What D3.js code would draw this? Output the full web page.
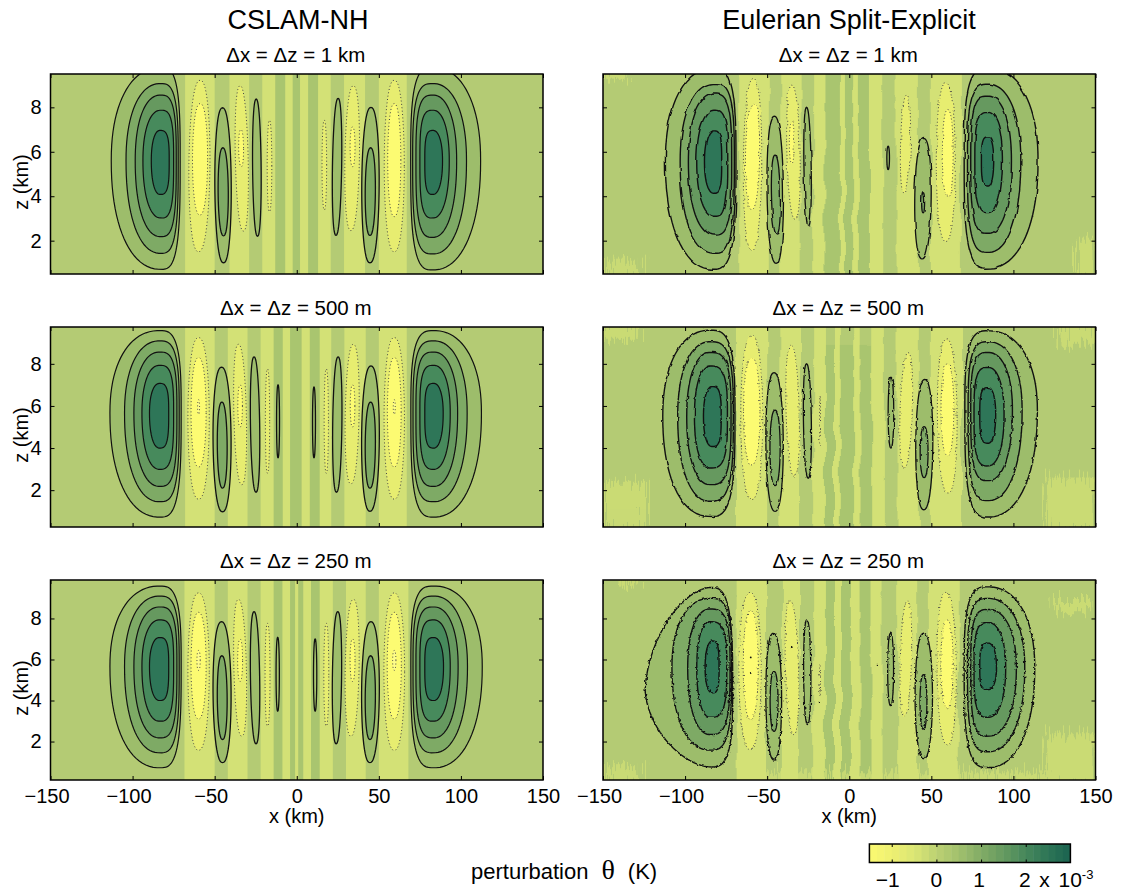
<!DOCTYPE html>
<html>
<head>
<meta charset="utf-8">
<script src="https://cdnjs.cloudflare.com/ajax/libs/d3/7.8.5/d3.min.js"></script>
<style>
    html, body { margin: 0; padding: 0; background: #fff; }
    text { font-family: "Liberation Sans", Arial, sans-serif; fill: #000; }
</style>
</head>
<body>
<script>
// tick labels
const xTicks = [-150, -100, -50, 0, 50, 100, 150];
const zTicks = [2, 4, 6, 8];
const barTicks = [-1, 0, 1, 2];

// colours
const fills = {
    d0: "#a9c56f", b0: "#b4cb74", n1: "#d3e176", n2: "#e7ed70", n3: "#fcfb72", n4: "#fdfc8a",
    p1: "#9dbd6b", p2: "#7eaa65", p3: "#66995f", p4: "#478a5c", p5: "#2e7658"
};
const barValues = [-1.5, -1, -0.5, 0, 0.5, 1, 1.5, 2, 2.5, 3];
const barColors = ["#fbf971", "#eef072", "#dbe674", "#bcd173", "#a1c06d", "#82ac66", "#659a60", "#46875b", "#2d7556", "#1b6350"];

// vertical strips [x0, x1, fill, zTop]
const bandsA1 = [[-68,-50,"n1"],[-41,-29,"n1"],[-21,-13,"n1"],[-13,-7,"d0"],[-7,-2.4,"n1"],[-2.4,2,"d0"],[2,7,"n1"],[7,13,"d0"],[13,20.7,"n1"],[28.8,41.6,"n1"],[50,67,"n1"]];
const bandsA2 = [[-68,-50,"n1"],[-42,-30,"n1"],[-22,-14,"n1"],[-14,-8.5,"d0"],[-8.5,-4,"n1"],[-4,3,"d0"],[3,8,"n1"],[8,14,"d0"],[14,21,"n1"],[29,42,"n1"],[50,67,"n1"]];
const bandsA3 = [[-68.4,-50,"n1"],[-42,-30,"n1"],[-22,-14,"n1"],[-14,-8.7,"d0"],[-8.7,-4,"n1"],[-4,-1,"d0"],[-1,1,"n1"],[1,4,"d0"],[4,8.7,"n1"],[8.7,14,"d0"],[14,22,"n1"],[30,42,"n1"],[50,68,"n1"]];
const bandsB1 = [[-67,-49,"n1"],[-42,-29.6,"n1"],[-22,-15,"n1"],[-15,-5.7,"d0"],[-5.7,-2.6,"n1"],[-2.6,2.4,"d0"],[2.4,5.9,"n1"],[5.9,12.6,"d0"],[12.6,20.7,"n1"],[28.8,42.4,"n1"],[49.7,68,"n1"]];
const bandsB2 = [[-69,-50,"n1"],[-42.6,-30,"n1"],[-22,-14.8,"n1"],[-14.8,-9.3,"d0",8.9],[-9.3,-5.7,"n1"],[-5.7,3,"d0",8.9],[3,7,"n1"],[7,14,"d0",8.9],[14,21.7,"n1"],[29.4,43,"n1"],[49.7,68.7,"n1"]];
const bandsB3 = [[-68.6,-50.7,"n1"],[-41,-30.6,"n1"],[-22,-14.8,"n1"],[-14.8,-9.3,"d0"],[-9.3,-5,"n1"],[-5,1,"d0"],[1,7,"n1"],[7,13.6,"d0"],[13.6,20.3,"n1"],[29.8,42,"n1"],[48.5,66.7,"n1"]];

// big lobes, one row per contour, inner to the plot last [xOuter, xApex, xInner, zTop, zBottom, zMid, outerExponent]
const bigA1 = [
    [-113,-82.8,-71,9.8,0.71,5.6],[-104,-83,-72.2,9.07,1.43,5.6],[-98.4,-83,-73.4,8.55,2.18,5.6],[-93.7,-82.8,-75,7.87,3.02,5.6],[-88.6,-83.3,-77.7,6.96,4.08,5.6],
    [112,83,69.4,9.8,0.68,5.6],[103.4,83,70.6,9.07,1.4,5.6],[97.4,83,72.6,8.55,2.15,5.6],[92.9,83,75,7.87,3.02,5.6],[88.8,83,78,6.96,4.08,5.6]
];
const bigA2 = [
    [-113.8,-83.6,-70.4,9.58,0.72,5.66],[-104.9,-83.6,-71.6,9.09,1.45,5.66],[-99.2,-83.6,-73,8.56,2.18,5.66],[-94.3,-83.6,-75,7.93,2.99,5.66],[-89.7,-83.6,-78,7.07,4,5.66],
    [112.5,83.5,69.5,9.58,0.72,5.66],[103.8,83.5,70.8,9.09,1.45,5.66],[98,83.5,72.6,8.56,2.18,5.66],[93.5,83.5,75,7.93,2.99,5.66],[89.2,83.5,78,7.07,4,5.66]
];
const bigA3 = [
    [-113.8,-83.6,-70.4,9.58,0.72,5.66],[-104.9,-83.6,-71.6,9.09,1.45,5.66],[-99.2,-83.6,-73,8.56,2.18,5.66],[-94.3,-83.6,-75,7.93,2.99,5.66],[-89.7,-83.6,-78,7.07,4,5.66],
    [113,83.5,69.5,9.58,0.72,5.66],[104,83.5,70.8,9.09,1.45,5.66],[98.3,83.5,72.6,8.56,2.18,5.66],[93.5,83.5,75,7.93,2.99,5.66],[89.4,83.5,78,7.07,4,5.66]
];
const bigB1 = [
    [-112,-82.8,-69,9.75,0.71,5.55],[-103,-82,-70,9.07,1.43,5.55],[-98,-82,-71.6,8.6,2.25,5.55],[-92.9,-82,-74,7.87,3.1,5.55],[-88.2,-82.4,-77.7,6.94,4.13,5.55],
    [115,84.6,70,9.75,0.76,5.6],[104.5,84.6,72,9.04,1.47,5.6],[98.8,84.6,74,8.5,2.33,5.6],[93.3,84.6,76.5,7.77,3.26,5.6],[88,84.6,80.5,6.67,4.46,5.6]
];
const bigB2 = [
    [-113.6,-84.8,-69.6,9.6,0.75,5.5],[-104.5,-84.8,-70.6,9.05,1.47,5.5],[-99,-84.8,-72,8.54,2.26,5.5],[-94.3,-84.8,-74.2,7.9,3.05,5.5],[-88.8,-83.5,-78,6.92,4.07,5.5],
    [114.6,84.6,70.4,9.57,0.72,5.8],[105.3,84.6,72.4,9.05,1.5,5.8],[99.4,84.6,74,8.54,2.45,5.8],[94.3,84.6,76,7.83,3.15,5.6],[89.2,84.6,79.5,6.87,4.23,5.6]
];
const bigB3 = [
    [-124.3,-84.8,-71,9.51,0.76,4.5,1.7],[-108,-84.8,-71.6,8.98,1.58,5.6],[-98.4,-84.8,-72.6,8.46,2.34,5.6],[-92.9,-84.8,-74.6,7.84,3.18,5.6],[-87.8,-83.4,-79.3,6.9,4.37,5.6],
    [113,84.6,70,9.54,0.73,5.6],[106.9,84.6,72,8.98,1.5,5.6],[101.8,84.6,74,8.44,2.26,5.6],[95.3,84.6,76,7.8,3.18,5.6],[89.7,84.6,79.5,6.8,4.53,5.6]
];

// narrow lobes [xTop, zTop, xBottom, zBottom, halfWidth, fill]; n fills get dotted outlines
const smallA1 = [
    [-58.8,9.22,-59.8,1.5,6.4,"n2"],[-58.8,8.17,-59,3.15,4.6,"n3"],[-45.2,7.98,-44.6,1,5,"p1"],[-45,6.18,-44.6,2.22,3.1,"p2"],
    [-34.5,8.97,-32.5,2.43,3.9,"n2"],[-34,7,-33.8,5.33,1.5,"n3"],[-24.7,8.37,-23.9,2.2,2.6,"p1"],[-16.6,7.42,-16.6,3.3,1.4,"n2"],
    [16.8,7.42,16.8,3.38,1.4,"n2"],[25.2,8.4,23.9,2.24,2.8,"p1"],[34.5,8.97,33,2.45,4.4,"n2"],[34,7.12,34,5.33,1.5,"n3"],
    [45.2,8,44.6,1,5.3,"p1"],[45,6.18,44.6,2.24,3.1,"p2"],[59.4,9.22,59.4,1.5,6.1,"n2"],[59.4,8.17,59.4,3.08,4,"n3"]
];
const smallA2 = [
    [-59.8,9.25,-59.8,1.57,6.5,"n2"],[-59.8,8.3,-59.8,3.1,4.6,"n3"],[-59.8,6.3,-59.8,5.6,0.6,"n4"],[-45.8,7.84,-45.2,0.97,5.5,"p1"],[-45.6,6.18,-45.2,2.1,3,"p2"],
    [-35.5,8.93,-33.5,2.26,3.8,"n2"],[-34.5,7,-34.5,5,1.4,"n3"],[-26,8.33,-24.8,1.9,2.8,"p1"],[-17.8,7.76,-17.8,2.8,1.3,"n2"],[-11.4,7,-11.4,3.54,0.9,"p1"],
    [10.5,6.9,10.5,3.54,0.9,"p1"],[18,7.76,18,2.8,1.3,"n2"],[25.2,8.33,24.2,1.9,2.8,"p1"],[34.5,8.93,33,2.3,4.2,"n2"],[34,7,34,5,1.4,"n3"],
    [45.2,7.9,44.6,1,5.4,"p1"],[45,6.18,44.6,2.1,3.1,"p2"],[59.4,9.25,59.4,1.57,6.2,"n2"],[59.4,8.3,59.4,3.1,4.2,"n3"],[59.4,6.3,59.4,5.6,0.6,"n4"]
];
const smallA3 = [
    [-59.8,9.25,-59.8,1.57,6.5,"n2"],[-59.8,8.3,-59.8,3.1,4.6,"n3"],[-59.8,6.44,-59.8,5.47,1,"n4"],[-45.8,7.84,-45.2,0.97,5.5,"p1"],[-45.6,6.18,-45.2,2.1,3,"p2"],
    [-35.5,8.93,-33.5,2.26,3.8,"n2"],[-34.5,6.99,-34.5,4.93,1.5,"n3"],[-26,8.33,-24.8,1.89,2.8,"p1"],[-17.8,7.76,-17.8,2.75,1.5,"n2"],[-11.6,7.08,-11.6,3.48,1,"d0"],
    [11.2,7,11.2,3.48,1,"d0"],[18,7.76,18,2.75,1.5,"n2"],[25,8.33,24,1.89,2.8,"p1"],[34.5,8.93,33,2.26,4.2,"n2"],[34,7,34,4.93,1.5,"n3"],
    [45.2,7.84,44.6,0.97,5.4,"p1"],[45,6.18,44.6,2.1,3.1,"p2"],[59.4,9.25,59.4,1.57,6.3,"n2"],[59.4,8.3,59.4,3.1,4.3,"n3"],[59.4,6.44,59.4,5.47,1,"n4"]
];
const smallB1 = [
    [-58.4,9.3,-59.4,1.58,5.6,"n2"],[-58.4,8.2,-59.4,3.4,4.3,"n3"],[-45.6,7.6,-44.6,0.98,5,"p1"],[-45.2,5.85,-44.2,2.3,2.7,"p2"],
    [-35,9,-33,2.96,4,"n2"],[-35,7.35,-35,5.48,1.5,"n3"],[-26,8,-24.8,2.67,2.2,"p1"],
    [23.7,6.25,23.7,5.2,0.8,"p1"],[35,8.55,33.5,4.1,3,"n2"],[45.4,6.6,44.4,1.18,5,"p1"],[45,4.16,45,3.3,0.9,"p2"],[58.8,9.1,58.8,1.96,5.8,"n2"],[60,7.9,60,3.95,3.3,"n3"]
];
const smallB2 = [
    [-59.4,9.36,-59.4,1.55,6.7,"n2"],[-59.4,8.3,-59.4,3.2,5,"n3"],[-45.8,7.58,-45.2,0.99,5.3,"p1"],[-45.2,5.8,-45.2,2.22,3.1,"p2"],
    [-35.5,8.9,-33.5,2.65,4,"n2"],[-26,8,-25,2.57,2.4,"p1"],[-17.8,6.47,-17.8,4.1,0.3,"n2"],
    [25.4,7.36,25.4,4,1.7,"p1"],[35.9,8.53,33.5,3.05,3.7,"n2"],[46,7.26,45.4,1.07,5.2,"p1"],[45.6,5.02,45.6,2.6,2.4,"p2"],[59.2,9.2,60.2,1.86,6,"n2"],[59.8,8,59.8,3.65,3.9,"n3"]
];
const smallB3 = [
    [-60.4,9.27,-60.4,1.61,6.8,"n2"],[-60,8.38,-60,3.07,4.6,"n3"],[-46.2,7.28,-45.8,1.1,4.8,"p1"],[-45.8,5.42,-45.8,2.5,2.4,"p2"],
    [-36,8.86,-33.8,2.34,4,"n2"],[-25.8,7.93,-25.4,2.83,2.2,"p1"],[-17.8,5.8,-17.8,4.2,0.3,"n2"],
    [25.2,7.28,25.2,3.75,1.8,"p1"],[35.5,8.86,33.5,3.23,3.4,"n2"],[45.4,7.28,45.4,1.16,5.3,"p1"],[45.2,5.26,45.2,2.59,2.1,"p2"],[58.8,9.27,59.8,1.83,5.9,"n2"],[59.6,7.93,59.6,3.64,3.75,"n3"]
];

// light streaky patches near the domain corners [x0, x1, z0, z1]
const patchesB1 = [[-150,-128,0.4,1.1],[-150,-135,9.2,9.6],[138,150,0.4,2]];
const patchesB2 = [[-150,-125,0.2,2.4],[-150,-128,9,9.8],[128,150,9,9.8],[120,150,0.2,2.6]];
const patchesB3 = [[-150,-128,0,0.8],[-140,-130,9.5,9.9],[125,147,8.4,9],[120,150,0.2,2.4],[-60,150,0,0.5]];

// stray contour specks in the finest run [x, z]
const specksB3 = [[-60,6.1],[-60,5.35],[-35,6.6],[-18,3.9],[17,5.75]];

const panels = [
    { title: "\u0394x = \u0394z = 1 km", col: 0, row: 0, zDomain: [0.5, 9.5], bands: bandsA1, big: bigA1, small: smallA1 },
    { title: "\u0394x = \u0394z = 500 m", col: 0, row: 1, zDomain: [0.25, 9.75], bands: bandsA2, big: bigA2, small: smallA2 },
    { title: "\u0394x = \u0394z = 250 m", col: 0, row: 2, zDomain: [0.125, 9.875], bands: bandsA3, big: bigA3, small: smallA3 },
    { title: "\u0394x = \u0394z = 1 km", col: 1, row: 0, zDomain: [0.5, 9.5], bands: bandsB1, big: bigB1, small: smallB1, patches: patchesB1, rough: "rough1" },
    { title: "\u0394x = \u0394z = 500 m", col: 1, row: 1, zDomain: [0.25, 9.75], bands: bandsB2, big: bigB2, small: smallB2, patches: patchesB2, rough: "rough2" },
    { title: "\u0394x = \u0394z = 250 m", col: 1, row: 2, zDomain: [0.125, 9.875], bands: bandsB3, big: bigB3, small: smallB3, patches: patchesB3, rough: "rough3", specks: specksB3 }
];

const width = 1121, height = 894;
const colLeft = [50.5, 603], colWidth = 492.5;
const rowTop = [74, 327, 580], rowHeight = 200;
const bigFills = ["p1", "p2", "p3", "p4", "p5"];

const svg = d3.select("body").append("svg").attr("width", width).attr("height", height).style("display", "block");
const defs = svg.append("defs");

// edge roughness filters for the Eulerian runs
function addFilter(id, freq, scale, seed) {
    const f = defs.append("filter").attr("id", id)
        .attr("x", "-5%").attr("y", "-5%").attr("width", "110%").attr("height", "110%")
        .attr("color-interpolation-filters", "sRGB");
    f.append("feTurbulence").attr("type", "fractalNoise").attr("baseFrequency", freq).attr("numOctaves", 2).attr("seed", seed).attr("result", "n");
    f.append("feDisplacementMap").attr("in", "SourceGraphic").attr("in2", "n").attr("scale", scale).attr("xChannelSelector", "R").attr("yChannelSelector", "G");
}
addFilter("rough1", "0.07", 3.5, 3);
addFilter("rough2", "0.18", 2.8, 5);
addFilter("rough3", "0.3", 3.2, 8);
addFilter("wavy", "0.012 0.03", 7, 4);
addFilter("streak", "0.5 0.02", 34, 7);

// quadrant-wise superellipse through the four extreme points of a contour
function bigShape(c, x, z) {
    const [xOut, xA, xIn, zT, zB, zM, nOut] = c;
    const pts = d3.range(0, 360, 4).map(a => {
        const t = a * Math.PI / 180, ca = Math.cos(t), sa = Math.sin(t);
        const rx = ca < 0 ? xOut - xA : xIn - xA, nx = ca < 0 ? (nOut || 2.2) : 3.2;
        const rz = sa > 0 ? zT - zM : zB - zM;
        const px = xA + rx * Math.pow(Math.abs(ca), 2 / nx);
        const pz = zM + rz * Math.pow(Math.abs(sa), 2 / nx);
        return [px, pz];
    });
    return d3.line().x(d => x(d[0])).y(d => z(d[1])).curve(d3.curveLinearClosed)(pts);
}

// slim slanted lobe between a top and a bottom point
function smallShape(c, x, z) {
    const [xT, zT, xB, zB, w] = c;
    const pts = d3.range(0, 360, 6).map(a => {
        const t = a * Math.PI / 180, s = Math.sin(t), k = (s + 1) / 2;
        const cx = xB + (xT - xB) * k;
        const off = Math.sign(Math.cos(t)) * w * Math.pow(Math.abs(Math.cos(t)), 0.85);
        return [cx + off, zB + (zT - zB) * k];
    });
    return d3.line().x(d => x(d[0])).y(d => z(d[1])).curve(d3.curveLinearClosed)(pts);
}

function drawPanel(p, i) {
    const left = colLeft[p.col], top = rowTop[p.row];
    const x = d3.scaleLinear().domain([-150, 150]).range([0, colWidth]);
    const z = d3.scaleLinear().domain(p.zDomain).range([rowHeight, 0]);
    const g = svg.append("g").attr("transform", `translate(${left},${top})`);

    defs.append("clipPath").attr("id", "clip" + i).append("rect").attr("width", colWidth).attr("height", rowHeight);

    const plot = g.append("g").attr("clip-path", `url(#clip${i})`);
    plot.append("rect").attr("width", colWidth).attr("height", rowHeight).attr("fill", fills.b0);

    // background strips
    const strips = plot.append("g").attr("filter", p.rough ? "url(#wavy)" : null);
    strips.selectAll("rect").data(p.bands).join("rect")
        .attr("x", d => x(d[0]))
        .attr("width", d => x(d[1]) - x(d[0]))
        .attr("y", d => d[3] ? z(d[3]) : -20)
        .attr("height", d => rowHeight + 20 - (d[3] ? z(d[3]) : -20) + 20)
        .attr("fill", d => fills[d[2]]);

    if (p.patches) {
        plot.append("g").attr("filter", "url(#streak)").attr("opacity", 0.7).selectAll("rect").data(p.patches).join("rect")
            .attr("x", d => x(d[0]))
            .attr("width", d => x(d[1]) - x(d[0]))
            .attr("y", d => z(d[3]))
            .attr("height", d => z(d[2]) - z(d[3]))
            .attr("fill", fills.n1);
    }

    // contours
    const lines = plot.append("g").attr("filter", p.rough ? `url(#${p.rough})` : null);
    lines.selectAll("path.big").data(p.big).join("path")
        .attr("class", "big")
        .attr("d", d => bigShape(d, x, z))
        .attr("fill", (d, j) => fills[bigFills[j % 5]])
        .attr("stroke", "#111")
        .attr("stroke-width", p.rough ? 1.4 : 1.2);

    lines.selectAll("path.small").data(p.small).join("path")
        .attr("class", "small")
        .attr("d", d => smallShape(d, x, z))
        .attr("fill", d => fills[d[5]])
        .attr("stroke", d => d[5][0] === "n" ? "#444" : "#111")
        .attr("stroke-width", d => d[5][0] === "n" ? 1 : 1.3)
        .attr("stroke-dasharray", d => d[5][0] === "n" ? "1 2.4" : null);

    if (p.specks) {
        lines.selectAll("circle").data(p.specks).join("circle")
            .attr("cx", d => x(d[0])).attr("cy", d => z(d[1])).attr("r", 0.9).attr("fill", "#111");
    }

    // axes, ticks point inward on all four sides
    const labelsX = p.row === 2;
    const gx = g.append("g").attr("transform", `translate(0,${rowHeight})`)
        .call(d3.axisBottom(x).tickValues(xTicks).tickSizeInner(-4).tickSizeOuter(0).tickPadding(9)
            .tickFormat(d => labelsX ? String(d).replace("-", "\u2212") : ""));
    gx.selectAll("text").attr("dx", d => d < 0 ? -4 : 0);
    const gt = g.append("g").call(d3.axisTop(x).tickValues(xTicks).tickSizeInner(-4).tickSizeOuter(0).tickFormat(""));
    const gy = g.append("g")
        .call(d3.axisLeft(z).tickValues(zTicks).tickSizeInner(-4).tickSizeOuter(0).tickPadding(9)
            .tickFormat(d => p.col === 0 ? d : ""));
    const gr = g.append("g").attr("transform", `translate(${colWidth},0)`)
        .call(d3.axisRight(z).tickValues(zTicks).tickSizeInner(-4).tickSizeOuter(0).tickFormat(""));
    [gx, gt, gy, gr].forEach(a => {
        a.select(".domain").remove();
        a.selectAll("line").attr("stroke", "#000").attr("stroke-width", 1);
        a.selectAll("text").attr("font-size", 20).attr("font-family", '"Liberation Sans", Arial, sans-serif');
    });

    g.append("rect").attr("width", colWidth).attr("height", rowHeight)
        .attr("fill", "none").attr("stroke", "#000").attr("stroke-width", 1.5);

    g.append("text").attr("x", colWidth / 2 - 1).attr("y", -12).attr("text-anchor", "middle").attr("font-size", 20.5).text(p.title);
    if (p.col === 0) {
        g.append("text").attr("transform", `translate(-23,${rowHeight / 2 + 8}) rotate(-90)`)
            .attr("text-anchor", "middle").attr("font-size", 20).text("z (km)");
    }
    if (labelsX) {
        g.append("text").attr("x", colWidth / 2).attr("y", rowHeight + 43).attr("text-anchor", "middle").attr("font-size", 20).text("x (km)");
    }
}

panels.forEach(drawPanel);

// column titles
svg.append("text").attr("x", 298).attr("y", 29).attr("text-anchor", "middle").attr("font-size", 27).text("CSLAM-NH");
svg.append("text").attr("x", 849).attr("y", 29).attr("text-anchor", "middle").attr("font-size", 27).text("Eulerian Split-Explicit");

// colour bar
const barX = d3.scaleLinear().domain([-1.5, 3]).range([869.4, 1070.4]);
const barColor = d3.scaleLinear().domain(barValues).range(barColors);
const barStep = 1 / 6;
const barSteps = d3.range(27).map(i => -1.5 + i * barStep);
const bar = svg.append("g").attr("transform", "translate(0,844)");
bar.selectAll("rect").data(barSteps).join("rect")
    .attr("x", d => barX(d))
    .attr("width", d => barX(d + barStep) - barX(d) + 0.5)
    .attr("height", 18.5)
    .attr("fill", d => barColor(d + barStep / 2));
bar.append("g").attr("transform", "translate(0,18.5)")
    .call(d3.axisBottom(barX).tickValues(barTicks).tickSizeInner(-3).tickSizeOuter(0).tickFormat(""))
    .call(a => a.select(".domain").remove());
bar.append("g")
    .call(d3.axisTop(barX).tickValues(barTicks).tickSizeInner(-3).tickSizeOuter(0).tickFormat(""))
    .call(a => a.select(".domain").remove());
bar.append("rect").attr("x", 869.4).attr("width", 201).attr("height", 18.5)
    .attr("fill", "none").attr("stroke", "#000").attr("stroke-width", 1.5);

const barLabels = svg.append("g").attr("font-size", 21).attr("text-anchor", "middle");
barLabels.selectAll("text").data(barTicks.slice(0, 3)).join("text")
    .attr("x", d => barX(d) - (d < 0 ? 4 : d === 1 ? 2 : 0)).attr("y", 887)
    .text(d => String(d).replace("-", "\u2212"));
const lastLabel = svg.append("text").attr("x", 1019).attr("y", 887).attr("font-size", 21).attr("word-spacing", 2.8).text("2 x 10");
lastLabel.append("tspan").attr("font-size", 13).attr("dy", -8).text("-3");

// bottom caption
const caption = svg.append("text").attr("x", 471).attr("y", 879).attr("font-size", 22).text("perturbation");
caption.append("tspan").attr("dx", 13).attr("font-family", '"Liberation Serif", serif').attr("font-size", 28).text("\u03b8");
caption.append("tspan").attr("dx", 13).text("(K)");
</script>
</body>
</html>
